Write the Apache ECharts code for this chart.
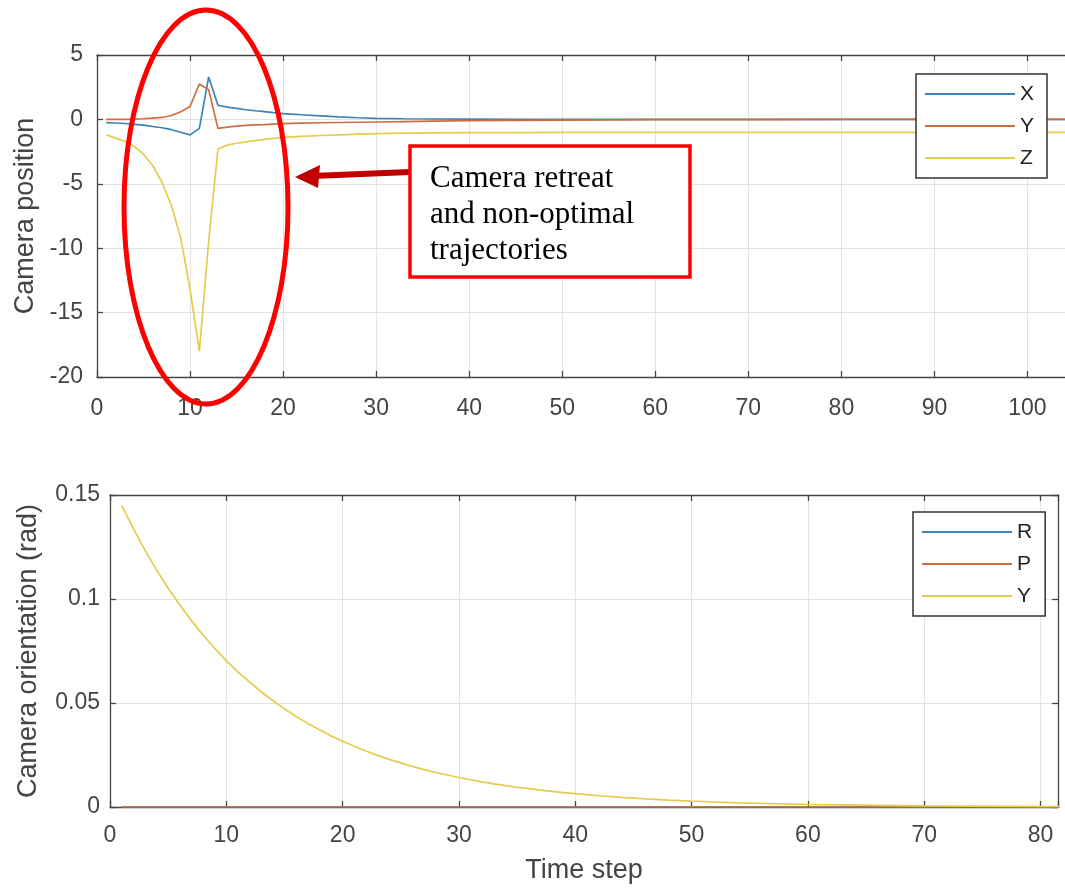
<!DOCTYPE html>
<html>
<head>
<meta charset="utf-8">
<script src="https://cdn.jsdelivr.net/npm/echarts@6/dist/echarts.min.js"></script>
<style>
  html, body { margin: 0; padding: 0; background: #fff; }
  #main { width: 1065px; height: 890px; }
</style>
</head>
<body>
<div id="main"></div>
<script>
// top: camera position
var posT = [1, 2, 3, 4, 5, 6, 7, 8, 9, 10, 11, 12, 13, 14, 15, 16, 17, 18, 19, 20,
            22, 24, 26, 28, 30, 33, 36, 40, 45, 50, 60, 70, 80, 90, 100, 105];
var posX = [-0.25, -0.28, -0.32, -0.38, -0.45, -0.55, -0.65, -0.8, -1.0, -1.2, -0.7, 3.3, 1.1, 0.95, 0.85, 0.75, 0.67, 0.6, 0.52, 0.45,
            0.36, 0.28, 0.2, 0.13, 0.08, 0.05, 0.03, 0.02, 0.01, 0, 0, 0, 0, 0, 0, 0];
var posY = [0, 0, 0, 0.02, 0.05, 0.1, 0.15, 0.3, 0.6, 1.0, 2.75, 2.3, -0.7, -0.6, -0.52, -0.47, -0.43, -0.4, -0.36, -0.33,
            -0.29, -0.26, -0.24, -0.22, -0.2, -0.17, -0.14, -0.1, -0.07, -0.05, -0.02, -0.01, 0, 0, 0, 0];
var posZ = [-1.2, -1.45, -1.7, -2.1, -2.7, -3.6, -4.9, -6.7, -9.2, -13.2, -18.0, -9.5, -2.3, -2.0, -1.85, -1.75, -1.65, -1.55, -1.47, -1.4,
            -1.32, -1.25, -1.2, -1.15, -1.1, -1.07, -1.05, -1.03, -1.02, -1.0, -1.0, -1.0, -1.0, -1.0, -1.0, -1.0];

// bottom: camera orientation (rad)
var oriT = [1, 2, 3, 4, 5, 6, 7, 8, 9, 10, 11, 12, 13, 14, 15, 16, 17, 18, 19, 20,
            21, 22, 23, 24, 25, 26, 27, 28, 29, 30, 31, 32, 33, 34, 35, 36, 37, 38, 39, 40,
            42, 44, 46, 48, 50, 52, 54, 56, 58, 60, 63, 66, 70, 74, 78, 82];
var oriR = [0, 0, 0, 0, 0, 0, 0, 0, 0, 0, 0, 0, 0, 0, 0, 0, 0, 0, 0, 0,
            0, 0, 0, 0, 0, 0, 0, 0, 0, 0, 0, 0, 0, 0, 0, 0, 0, 0, 0, 0,
            0, 0, 0, 0, 0, 0, 0, 0, 0, 0, 0, 0, 0, 0, 0, 0];
var oriP = [0, 0, 0, 0, 0, 0, 0, 0, 0, 0, 0, 0, 0, 0, 0, 0, 0, 0, 0, 0,
            0, 0, 0, 0, 0, 0, 0, 0, 0, 0, 0, 0, 0, 0, 0, 0, 0, 0, 0, 0,
            0, 0, 0, 0, 0, 0, 0, 0, 0, 0, 0, 0, 0, 0, 0, 0];
var oriY = [0.145, 0.134, 0.1235, 0.114, 0.1052, 0.0971, 0.0896, 0.0827, 0.0763, 0.0704,
            0.065, 0.06, 0.0554, 0.0511, 0.0472, 0.0435, 0.0402, 0.0371, 0.0342, 0.0316,
            0.0292, 0.0269, 0.0248, 0.0229, 0.0212, 0.0195, 0.018, 0.0166, 0.0154, 0.0142,
            0.0131, 0.0121, 0.0111, 0.0103, 0.0095, 0.0088, 0.0081, 0.0075, 0.0069, 0.0064,
            0.0054, 0.0046, 0.0039, 0.0033, 0.0028, 0.0024, 0.002, 0.0017, 0.0015, 0.0012,
            0.001, 0.0008, 0.0005, 0.0004, 0.0003, 0.0002];

var note = ['Camera retreat', 'and non-optimal', 'trajectories'];

var cBlue = '#3a84bb', cRed = '#cf6d3f', cYel = '#e5cb4e';
var font = 'Liberation Sans, Arial, sans-serif';

function pairs(t, v) {
    return t.map(function (x, i) { return [x, v[i]]; });
}
function tenLabel(v) { return v % 10 === 0 ? v : ''; }

var myChart = echarts.init(document.getElementById('main'));

var lineAx = { onZero: false, lineStyle: { color: '#444', width: 1.3 } };
var tickIn = { inside: true, length: 6, lineStyle: { color: '#444', width: 1.3 } };
var grid0 = { lineStyle: { color: '#e3e3e3', width: 1 } };
var lbl = { color: '#444', fontSize: 23, fontFamily: font };
var nameStyle = { color: '#444', fontSize: 27, fontFamily: font };

function xAx(gi, max, margin, name) {
    return [{
        type: 'value', gridIndex: gi, min: 0, max: max, interval: 10,
        axisLine: lineAx, axisTick: tickIn, splitLine: grid0,
        axisLabel: Object.assign({ margin: margin, formatter: tenLabel }, lbl),
        name: name || '', nameLocation: 'middle', nameGap: 50, nameTextStyle: nameStyle
    }, {
        type: 'value', gridIndex: gi, position: 'top', min: 0, max: max, interval: 10,
        axisLine: lineAx, axisTick: tickIn, axisLabel: { show: false }, splitLine: { show: false }
    }];
}
function yAx(gi, min, max, step, margin, name, gap) {
    return [{
        type: 'value', gridIndex: gi, min: min, max: max, interval: step,
        axisLine: lineAx, axisTick: tickIn, splitLine: grid0,
        axisLabel: Object.assign({ margin: margin }, lbl),
        name: name, nameLocation: 'middle', nameGap: gap, nameTextStyle: nameStyle
    }, {
        type: 'value', gridIndex: gi, position: 'right', min: min, max: max, interval: step,
        axisLine: lineAx, axisTick: tickIn, axisLabel: { show: false }, splitLine: { show: false }
    }];
}

function ser(name, xi, yi, t, v, color) {
    return {
        name: name, type: 'line', xAxisIndex: xi, yAxisIndex: yi,
        data: pairs(t, v), symbol: 'none', smooth: false,
        lineStyle: { color: color, width: 1.7 }, itemStyle: { color: color }
    };
}

function legendAt(left, top, items) {
    return {
        orient: 'vertical', left: left, top: top,
        icon: 'rect', itemWidth: 90, itemHeight: 2, itemGap: 10, itemTextGap: 5,
        padding: [9, 13, 9, 9],
        backgroundColor: '#fff', borderColor: '#333', borderWidth: 1.5, borderRadius: 0,
        textStyle: { color: '#222', fontSize: 21, lineHeight: 22, fontFamily: font },
        selectedMode: false,
        data: items
    };
}

option = {
    animation: false,
    backgroundColor: '#fff',
    grid: [
        { left: 97, top: 55, height: 322, width: 977, outerBoundsMode: 'none', containLabel: false },
        { left: 110, top: 495, height: 312, right: 7, outerBoundsMode: 'none', containLabel: false }
    ],
    xAxis: xAx(0, 105, 20).concat(xAx(1, 81.5, 17, 'Time step')),
    yAxis: yAx(0, -20, 5, 5, 14, 'Camera position', 57)
        .concat(yAx(1, 0, 0.15, 0.05, 10, 'Camera orientation (rad)', 68)),
    legend: [
        legendAt(916, 74, [
            { name: 'X', itemStyle: { color: cBlue } },
            { name: 'Y', itemStyle: { color: cRed } },
            { name: 'Z', itemStyle: { color: cYel } }
        ]),
        legendAt(913, 512, [
            { name: 'R', itemStyle: { color: cBlue } },
            { name: 'P', itemStyle: { color: cRed } },
            { name: 'Y', itemStyle: { color: cYel } }
        ])
    ],
    series: [
        ser('X', 0, 0, posT, posX, cBlue),
        ser('Y', 0, 0, posT, posY, cRed),
        ser('Z', 0, 0, posT, posZ, cYel),
        ser('R', 2, 2, oriT, oriR, cBlue),
        ser('P', 2, 2, oriT, oriP, cRed),
        ser('Y', 2, 2, oriT, oriY, cYel)
    ],
    graphic: [
        {
            type: 'ellipse', z: 100,
            shape: { cx: 206, cy: 207, rx: 82, ry: 197 },
            style: { fill: 'none', stroke: '#ff0000', lineWidth: 5 }
        },
        {
            type: 'line', z: 100,
            shape: { x1: 410, y1: 172, x2: 312, y2: 176 },
            style: { stroke: '#c00000', lineWidth: 6 }
        },
        {
            type: 'polygon', z: 100,
            shape: { points: [[295, 177], [320, 165], [318, 188]] },
            style: { fill: '#c00000' }
        },
        {
            type: 'rect', z: 100,
            shape: { x: 410, y: 146, width: 280, height: 131 },
            style: { fill: '#fff', stroke: '#ff0000', lineWidth: 3.5 }
        },
        {
            type: 'text', z: 101, left: 430, top: 161,
            style: {
                text: note.join('\n'), fill: '#000',
                font: '31px "Liberation Serif", "Times New Roman", serif',
                lineHeight: 36
            }
        }
    ]
};

myChart.setOption(option);
</script>
</body>
</html>
